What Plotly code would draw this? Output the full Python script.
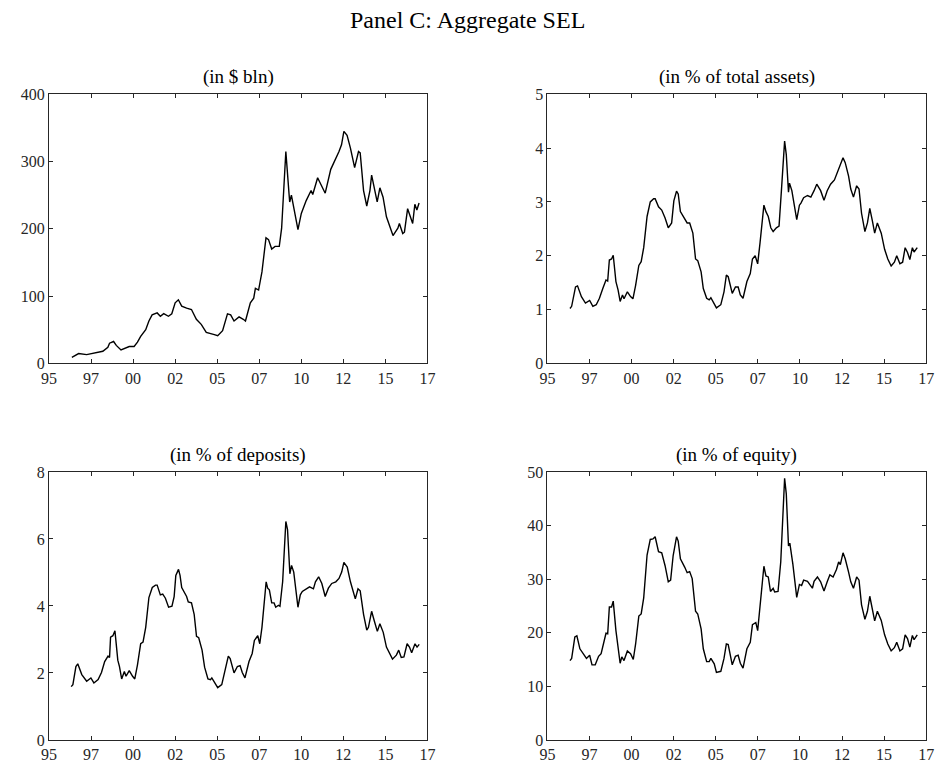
import plotly.graph_objects as go

# Aggregate SEL, four normalisations (x in decimal years)
dates_bln = [1996.36, 1996.66, 1996.76, 1997.24, 1997.53, 1997.82, 1998.2, 1998.5, 1998.6, 1998.84,
             1999.0, 1999.28, 1999.48, 1999.77, 2000.06, 2000.26, 2000.45, 2000.75, 2000.94, 2001.13,
             2001.43, 2001.62, 2001.82, 2002.1, 2002.3, 2002.5, 2002.69, 2002.89, 2003.18, 2003.47,
             2003.76, 2004.05, 2004.35, 2004.64, 2004.83, 2005.03, 2005.32, 2005.61, 2005.8, 2006.0,
             2006.3, 2006.55, 2006.68, 2006.97, 2007.17, 2007.27, 2007.46, 2007.66, 2007.9, 2008.05,
             2008.24, 2008.44, 2008.69, 2008.83, 2009.08, 2009.27, 2009.31, 2009.41, 2009.8, 2010.0,
             2010.29, 2010.58, 2010.68, 2010.97, 2011.16, 2011.42, 2011.75, 2012.04, 2012.24, 2012.39,
             2012.53, 2012.72, 2012.92, 2013.17, 2013.4, 2013.5, 2013.7, 2013.89, 2014.08, 2014.18,
             2014.38, 2014.51, 2014.67, 2014.86, 2015.06, 2015.25, 2015.45, 2015.74, 2015.83, 2016.03,
             2016.13, 2016.32, 2016.42, 2016.62, 2016.75, 2016.87, 2017.0]
sel_bln = [9, 13.6, 14.5, 13, 14.5, 15.5, 18, 24, 30, 32.5,
           26.7, 20, 22, 25, 25, 31.5, 40, 50, 63, 72,
           75, 70, 74, 70, 73.7, 90, 94.5, 85, 82, 80,
           65.5, 58, 46, 44.6, 42.7, 41, 48.5, 73.7, 72, 63,
           69, 65.5, 63, 90, 97, 111.5, 109, 136, 186.7, 184,
           170, 174, 174, 201, 315, 252, 240, 250, 199, 223,
           242, 257, 251, 276, 267, 253, 288.5, 303, 315, 325,
           345, 339, 320, 291, 315, 313, 257, 234, 257, 280,
           257, 240, 261, 247, 218, 204, 190, 201, 208, 193,
           195, 230, 223, 208, 236.6, 228, 238.5]

dates_pct = [1996.34, 1996.44, 1996.67, 1996.79, 1997.02, 1997.26, 1997.51, 1997.7, 1997.9, 1998.09,
             1998.29, 1998.48, 1998.58, 1998.68, 1998.81, 1998.91, 1999.07, 1999.2, 1999.32, 1999.46,
             1999.55, 1999.75, 1999.94, 2000.08, 2000.24, 2000.43, 2000.57, 2000.72, 2000.92, 2001.11,
             2001.31, 2001.4, 2001.6, 2001.79, 2001.99, 2002.18, 2002.38, 2002.51, 2002.67, 2002.77,
             2002.9, 2003.16, 2003.3, 2003.45, 2003.64, 2003.8, 2003.93, 2004.13, 2004.26, 2004.46,
             2004.61, 2004.71, 2004.91, 2005.04, 2005.3, 2005.49, 2005.63, 2005.74, 2005.98, 2006.17,
             2006.33, 2006.46, 2006.62, 2006.85, 2007.05, 2007.18, 2007.34, 2007.49, 2007.63, 2007.86,
             2007.98, 2008.12, 2008.27, 2008.41, 2008.6, 2008.76, 2008.9, 2009.09, 2009.19, 2009.32,
             2009.38, 2009.52, 2009.81, 2009.97, 2010.06, 2010.22, 2010.45, 2010.65, 2010.84, 2011.0,
             2011.23, 2011.43, 2011.62, 2011.82, 2012.05, 2012.3, 2012.4, 2012.56, 2012.69, 2012.89,
             2013.02, 2013.18, 2013.37, 2013.51, 2013.66, 2013.86, 2014.01, 2014.15, 2014.31, 2014.44,
             2014.6, 2014.83, 2015.03, 2015.22, 2015.42, 2015.61, 2015.75, 2015.94, 2016.1, 2016.25,
             2016.39, 2016.53, 2016.68, 2016.78, 2016.97]
sel_assets = [1.02, 1.06, 1.42, 1.44, 1.24, 1.12, 1.17, 1.06, 1.09, 1.21,
              1.39, 1.55, 1.53, 1.92, 1.94, 2.01, 1.52, 1.36, 1.15, 1.27,
              1.2, 1.33, 1.24, 1.2, 1.45, 1.82, 1.89, 2.15, 2.73, 3.0,
              3.06, 3.06, 2.91, 2.85, 2.7, 2.52, 2.61, 3.02, 3.2, 3.15,
              2.82, 2.67, 2.61, 2.61, 2.42, 1.94, 1.91, 1.7, 1.39, 1.21,
              1.18, 1.22, 1.12, 1.03, 1.09, 1.33, 1.64, 1.61, 1.30, 1.42,
              1.42, 1.27, 1.21, 1.52, 1.67, 1.94, 2.0, 1.85, 2.24, 2.94,
              2.82, 2.73, 2.52, 2.45, 2.52, 2.55, 3.21, 4.13, 3.88, 3.18,
              3.35, 3.21, 2.67, 2.94, 2.98, 3.08, 3.12, 3.09, 3.21, 3.33,
              3.21, 3.03, 3.21, 3.33, 3.41, 3.61, 3.70, 3.82, 3.73, 3.48,
              3.24, 3.09, 3.3, 3.24, 2.79, 2.45, 2.61, 2.88, 2.64, 2.42,
              2.61, 2.42, 2.12, 1.94, 1.81, 1.88, 2.0, 1.85, 1.88, 2.15,
              2.06, 1.93, 2.15, 2.07, 2.15]

dates_dep = [1996.32, 1996.42, 1996.6, 1996.71, 1996.95, 1997.24, 1997.49, 1997.67, 1997.92, 1998.12,
             1998.31, 1998.51, 1998.6, 1998.66, 1998.8, 1998.92, 1999.09, 1999.19, 1999.32, 1999.48,
             1999.58, 1999.77, 1999.97, 2000.1, 2000.26, 2000.45, 2000.59, 2000.75, 2000.94, 2001.14,
             2001.33, 2001.43, 2001.62, 2001.76, 2001.92, 2002.11, 2002.31, 2002.44, 2002.54, 2002.7,
             2002.79, 2002.89, 2003.18, 2003.28, 2003.47, 2003.63, 2003.77, 2003.9, 2004.1, 2004.25,
             2004.45, 2004.6, 2004.68, 2004.88, 2005.03, 2005.27, 2005.46, 2005.66, 2005.77, 2006.0,
             2006.2, 2006.36, 2006.49, 2006.65, 2006.89, 2007.08, 2007.21, 2007.41, 2007.53, 2007.66,
             2007.91, 2008.0, 2008.1, 2008.24, 2008.38, 2008.48, 2008.64, 2008.73, 2008.89, 2009.08,
             2009.18, 2009.32, 2009.42, 2009.55, 2009.8, 2009.94, 2010.06, 2010.2, 2010.49, 2010.72,
             2010.84, 2011.03, 2011.22, 2011.42, 2011.61, 2011.81, 2012.05, 2012.24, 2012.4, 2012.53,
             2012.73, 2012.92, 2013.06, 2013.21, 2013.37, 2013.5, 2013.7, 2013.89, 2013.99, 2014.18,
             2014.34, 2014.52, 2014.67, 2014.87, 2015.06, 2015.26, 2015.42, 2015.65, 2015.79, 2015.94,
             2016.1, 2016.29, 2016.43, 2016.56, 2016.76, 2016.88, 2017.01]
sel_deposits = [1.59, 1.65, 2.19, 2.27, 1.95, 1.75, 1.85, 1.70, 1.8, 2.01,
                2.34, 2.5, 2.46, 3.07, 3.11, 3.26, 2.38, 2.19, 1.82, 2.04,
                1.9, 2.07, 1.9, 1.82, 2.24, 2.87, 2.92, 3.36, 4.25, 4.55,
                4.62, 4.62, 4.33, 4.35, 4.23, 3.96, 3.99, 4.28, 4.91, 5.09,
                4.91, 4.55, 4.28, 4.12, 4.09, 3.75, 3.09, 3.05, 2.68, 2.17,
                1.82, 1.8, 1.85, 1.70, 1.56, 1.65, 2.04, 2.5, 2.43, 2.0,
                2.19, 2.22, 2.01, 1.85, 2.34, 2.58, 2.97, 3.11, 2.87, 3.36,
                4.72, 4.53, 4.48, 4.09, 4.09, 3.96, 4.02, 3.99, 4.72, 6.52,
                6.28, 4.96, 5.21, 5.01, 3.96, 4.33, 4.43, 4.48, 4.57, 4.51,
                4.72, 4.87, 4.67, 4.28, 4.53, 4.67, 4.72, 4.82, 5.01, 5.3,
                5.16, 4.72, 4.43, 4.21, 4.51, 4.45, 3.75, 3.28, 3.36, 3.84,
                3.55, 3.24, 3.47, 3.21, 2.77, 2.56, 2.41, 2.53, 2.68, 2.46,
                2.48, 2.87, 2.77, 2.6, 2.87, 2.77, 2.85]

dates_eq = [1996.34, 1996.44, 1996.63, 1996.75, 1996.93, 1997.12, 1997.32, 1997.51, 1997.65, 1997.84,
            1998.04, 1998.19, 1998.35, 1998.48, 1998.58, 1998.68, 1998.81, 1998.91, 1999.07, 1999.2,
            1999.32, 1999.42, 1999.55, 1999.75, 1999.94, 2000.1, 2000.24, 2000.43, 2000.57, 2000.72,
            2000.92, 2001.11, 2001.27, 2001.4, 2001.6, 2001.79, 2001.99, 2002.18, 2002.32, 2002.47,
            2002.67, 2002.77, 2002.9, 2003.16, 2003.3, 2003.45, 2003.6, 2003.8, 2003.93, 2004.13,
            2004.26, 2004.46, 2004.61, 2004.71, 2004.91, 2005.04, 2005.3, 2005.49, 2005.63, 2005.74,
            2005.98, 2006.17, 2006.33, 2006.46, 2006.62, 2006.85, 2007.05, 2007.18, 2007.38, 2007.49,
            2007.63, 2007.86, 2007.98, 2008.12, 2008.25, 2008.41, 2008.5, 2008.7, 2008.86, 2009.09,
            2009.19, 2009.32, 2009.4, 2009.58, 2009.81, 2009.97, 2010.1, 2010.22, 2010.45, 2010.65,
            2010.74, 2010.84, 2011.04, 2011.23, 2011.43, 2011.62, 2011.78, 2011.97, 2012.17, 2012.3,
            2012.4, 2012.56, 2012.69, 2012.89, 2013.02, 2013.18, 2013.37, 2013.51, 2013.66, 2013.86,
            2014.01, 2014.15, 2014.31, 2014.44, 2014.6, 2014.83, 2015.03, 2015.22, 2015.42, 2015.61,
            2015.75, 2015.94, 2016.1, 2016.25, 2016.39, 2016.53, 2016.68, 2016.78, 2016.97]
sel_equity = [14.8, 15.2, 19.2, 19.4, 17.0, 16.1, 15.2, 15.8, 14.0, 14.0,
              15.6, 16.1, 18.1, 19.9, 19.8, 24.8, 24.8, 25.9, 20.4, 17.0,
              14.3, 15.5, 14.8, 16.6, 16.1, 15.0, 17.9, 23.1, 23.5, 26.5,
              34.5, 37.4, 37.5, 37.9, 35.1, 34.9, 32.5, 29.5, 29.8, 34.4,
              37.9, 37.1, 33.8, 32.2, 31.2, 31.4, 30.1, 24.0, 23.5, 20.7,
              17.0, 14.6, 14.6, 15.2, 14.2, 12.6, 12.8, 15.2, 17.9, 17.8,
              14.0, 15.6, 15.8, 14.3, 13.4, 17.0, 18.2, 21.5, 21.9, 20.4,
              24.6, 32.4, 30.6, 30.4, 27.7, 28.3, 27.6, 27.7, 33.2, 48.8,
              45.9, 36.2, 36.7, 32.8, 26.6, 29.0, 28.8, 29.8, 29.6, 28.8,
              28.3, 29.6, 30.4, 29.5, 27.8, 29.5, 30.8, 30.4, 31.8, 33.2,
              32.7, 34.9, 33.8, 31.3, 29.5, 28.3, 30.4, 29.8, 25.2, 22.5,
              24.0, 26.8, 24.3, 22.2, 24.0, 22.3, 19.6, 17.9, 16.6, 17.2,
              18.2, 16.6, 17.0, 19.6, 18.9, 17.3, 19.5, 18.7, 19.6]

year_ticks = [1995, 1997.5, 2000, 2002.5, 2005, 2007.5, 2010, 2012.5, 2015, 2017.5]
year_labels = ["95", "97", "00", "02", "05", "07", "10", "12", "15", "17"]

panels = [
    ("(in $ bln)", dates_bln, sel_bln, [0, 400], [0, 100, 200, 300, 400]),
    ("(in % of total assets)", dates_pct, sel_assets, [0, 5], [0, 1, 2, 3, 4, 5]),
    ("(in % of deposits)", dates_dep, sel_deposits, [0, 8], [0, 2, 4, 6, 8]),
    ("(in % of equity)", dates_eq, sel_equity, [0, 50], [0, 10, 20, 30, 40, 50]),
]

W, H = 945, 776
x_doms = [[41.7 / W, 426.7 / W], [548.7 / W, 934.0 / W]]
y_doms = [[1 - 363.3 / H, 1 - 88.3 / H], [1 - 748.3 / H, 1 - 474.3 / H]]
title_y = [1 - 71 / H, 1 - 457 / H]

FONT = "Liberation Serif"
AX = "#262626"

fig = go.Figure()
annotations = []
for i, (title, xs, ys, yr, yt) in enumerate(panels):
    row, col = divmod(i, 2)
    sfx = "" if i == 0 else str(i + 1)
    fig.add_trace(go.Scatter(x=xs, y=ys, mode="lines",
                             line=dict(color="black", width=1.4),
                             xaxis="x" + sfx, yaxis="y" + sfx, showlegend=False,
                             hoverinfo="skip"))
    common = dict(showgrid=False, zeroline=False, showline=True, linecolor=AX,
                  linewidth=1, mirror="ticks", ticks="inside", ticklen=4,
                  tickcolor=AX, tickwidth=1,
                  tickfont=dict(family=FONT, size=16, color=AX))
    fig.update_layout(**{
        "xaxis" + sfx: dict(domain=x_doms[col], range=[1995, 2017.5],
                            tickvals=year_ticks, ticktext=year_labels,
                            anchor="y" + sfx, **common),
        "yaxis" + sfx: dict(domain=y_doms[row], range=yr, tickvals=yt,
                            anchor="x" + sfx, **common),
    })
    annotations.append(dict(text=title, x=sum(x_doms[col]) / 2, y=title_y[row],
                            xref="paper", yref="paper", xanchor="center",
                            yanchor="middle", showarrow=False,
                            font=dict(family=FONT, size=19, color="black")))

annotations.append(dict(text="Panel C: Aggregate SEL", x=467.5 / W, y=1 - 12 / H,
                        xref="paper", yref="paper", xanchor="center", yanchor="middle",
                        showarrow=False, font=dict(family=FONT, size=24, color="black")))

fig.update_layout(width=W, height=H, margin=dict(l=0, r=0, t=0, b=0),
                  paper_bgcolor="white", plot_bgcolor="white",
                  annotations=annotations)

fig.write_html("out.html")
